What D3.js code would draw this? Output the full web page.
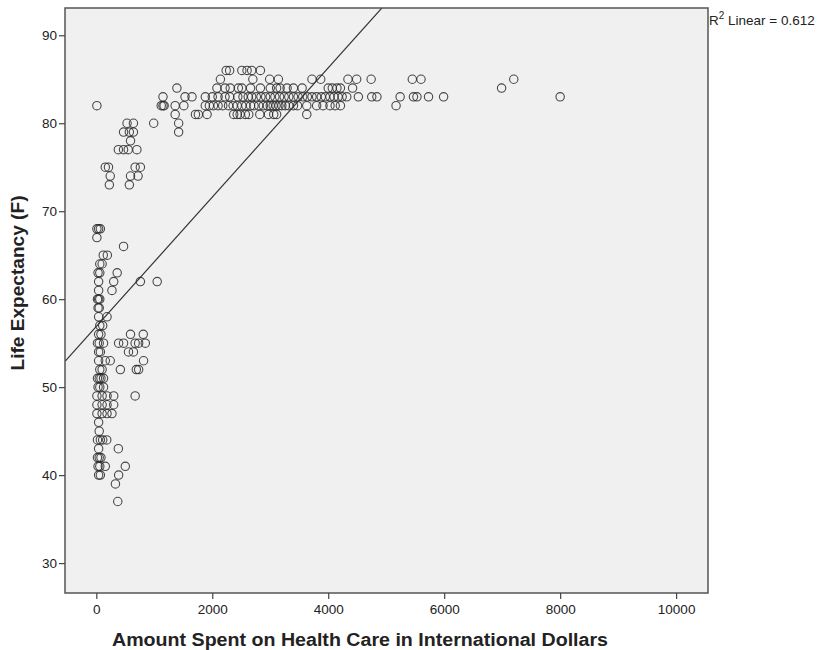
<!DOCTYPE html>
<html>
<head>
<meta charset="utf-8">
<script src="https://cdn.jsdelivr.net/npm/d3@7"></script>
<style>
  html, body { margin: 0; padding: 0; background: #fff; }
  svg { display: block; }
  .tick-label { font-family: "Liberation Sans", Arial, sans-serif; font-size: 13.5px; fill: #222; }
  .axis-title { font-family: "Liberation Sans", Arial, sans-serif; font-size: 18px; font-weight: bold; fill: #222; }
</style>
</head>
<body>
<svg id="chart" width="822" height="650"></svg>
<script>
// Health spending (international dollars) per country, grouped by life expectancy row
const spendingLow = [
  10, 40, 70, 10, 470, 120, 190, 60, 100, 30, 60, 360, 40, 300, 760, 1050, 40, 270,
  20, 40, 60, 30, 50, 40, 185, 60, 110, 40, 80, 590, 810,
  20, 50, 125, 385, 470, 670, 730, 845, 40, 70, 555, 640, 40, 155, 240, 815,
  60, 100, 415, 690, 730, 20, 50, 80, 125, 30, 60, 125, 10, 100, 185, 300, 670,
  10, 100, 185, 300, 10, 100, 185, 270, 40, 50, 20, 70, 110, 180, 40, 380,
  20, 50, 80, 30, 60, 155, 500, 40, 70, 385, 330, 370
];
const lifeLow = [
  68, 68, 68, 67, 66, 65, 65, 64, 64, 63, 63, 63, 62, 62, 62, 62, 61, 61,
  60, 60, 60, 59, 59, 58, 58, 57, 57, 56, 56, 56, 56,
  55, 55, 55, 55, 55, 55, 55, 55, 54, 54, 54, 54, 53, 53, 53, 53,
  52, 52, 52, 52, 52, 51, 51, 51, 51, 50, 50, 50, 49, 49, 49, 49, 49,
  48, 48, 48, 48, 47, 47, 47, 47, 46, 45, 44, 44, 44, 44, 43, 43,
  42, 42, 42, 41, 41, 41, 41, 40, 40, 40, 39, 37
];

const spendingMid = [
  10, 530, 640, 990, 470, 570, 640, 590, 380, 470, 550, 700,
  155, 210, 670, 760, 240, 590, 720, 225, 570
];
const lifeMid = [
  82, 80, 80, 80, 79, 79, 79, 78, 77, 77, 77, 77,
  75, 75, 75, 75, 74, 74, 74, 73, 73
];

const spendingHigh = [
  2240, 2300, 2510, 2600, 2680, 2830,
  2140, 2700, 2990, 3140, 3720, 3870, 4340, 4490, 4740, 5450, 5600, 7200,
  1390, 2080, 2220, 2310, 2450, 2510, 2660, 2830, 3000, 3110, 3170, 3290, 3400, 3550,
  4000, 4070, 4150, 4210, 4420, 6990,
  1150, 1530, 1650, 1880, 2000, 2100, 2220, 2300, 2440, 2530, 2620, 2680, 2760, 2840,
  2920, 3000, 3080, 3160, 3240, 3320, 3400, 3480, 3560, 3640, 3720, 3800, 3880, 3950,
  4030, 4100, 4170, 4240, 4320, 4520, 4750, 4840, 5240, 5470, 5530, 5730, 5990, 8000,
  1120, 1150, 1170, 1360, 1510, 1880, 1950, 2020, 2100, 2180, 2280, 2360, 2430, 2510,
  2580, 2660, 2720, 2800, 2880, 2950, 3000, 3050, 3100, 3150, 3200, 3260, 3320, 3400,
  3470, 3630, 3800, 3910, 4030, 4120, 4210, 5170,
  1360, 1710, 1760, 1910, 2370, 2430, 2480, 2570, 2630, 2820, 2970, 3060, 3110, 3630,
  1420, 1420
];
const lifeHigh = [
  86, 86, 86, 86, 86, 86,
  85, 85, 85, 85, 85, 85, 85, 85, 85, 85, 85, 85,
  84, 84, 84, 84, 84, 84, 84, 84, 84, 84, 84, 84, 84, 84,
  84, 84, 84, 84, 84, 84,
  83, 83, 83, 83, 83, 83, 83, 83, 83, 83, 83, 83, 83, 83,
  83, 83, 83, 83, 83, 83, 83, 83, 83, 83, 83, 83, 83, 83,
  83, 83, 83, 83, 83, 83, 83, 83, 83, 83, 83, 83, 83, 83,
  82, 82, 82, 82, 82, 82, 82, 82, 82, 82, 82, 82, 82, 82,
  82, 82, 82, 82, 82, 82, 82, 82, 82, 82, 82, 82, 82, 82,
  82, 82, 82, 82, 82, 82, 82, 82,
  81, 81, 81, 81, 81, 81, 81, 81, 81, 81, 81, 81, 81, 81,
  80, 79
];

// Linear fit (intercept, slope) and its R²
const fitIntercept = 56.9;
const fitSlope = 0.00735;
const rSquared = 0.612;

const xTicks = [0, 2000, 4000, 6000, 8000, 10000];
const yTicks = [30, 40, 50, 60, 70, 80, 90];
const xDomain = [-540, 10550];
const yDomain = [26.6, 93.1];

const svg = d3.select("#chart");
const plot = { left: 65, top: 8, right: 708, bottom: 593 };

const x = d3.scaleLinear().domain(xDomain).range([plot.left, plot.right]);
const y = d3.scaleLinear().domain(yDomain).range([plot.bottom, plot.top]);

const points = [];
[[spendingLow, lifeLow], [spendingMid, lifeMid], [spendingHigh, lifeHigh]].forEach(([xs, ys]) => {
  xs.forEach((v, i) => points.push({ spend: v, life: ys[i] }));
});

// Plot background
svg.append("rect")
  .attr("x", plot.left).attr("y", plot.top)
  .attr("width", plot.right - plot.left).attr("height", plot.bottom - plot.top)
  .attr("fill", "#f0f0f0");

svg.append("defs").append("clipPath").attr("id", "plot-clip")
  .append("rect")
  .attr("x", plot.left).attr("y", plot.top)
  .attr("width", plot.right - plot.left).attr("height", plot.bottom - plot.top);

// Scatter markers
svg.append("g")
  .selectAll("circle")
  .data(points)
  .join("circle")
  .attr("cx", d => x(d.spend))
  .attr("cy", d => y(d.life))
  .attr("r", 4.2)
  .attr("fill", "none")
  .attr("stroke", "#2a2a2a")
  .attr("stroke-opacity", 0.85)
  .attr("stroke-width", 1.1);

// Fit line
svg.append("line")
  .attr("clip-path", "url(#plot-clip)")
  .attr("x1", x(xDomain[0])).attr("y1", y(fitIntercept + fitSlope * xDomain[0]))
  .attr("x2", x(xDomain[1])).attr("y2", y(fitIntercept + fitSlope * xDomain[1]))
  .attr("stroke", "#333")
  .attr("stroke-width", 1.2);

// Frame
svg.append("rect")
  .attr("x", plot.left).attr("y", plot.top)
  .attr("width", plot.right - plot.left).attr("height", plot.bottom - plot.top)
  .attr("fill", "none")
  .attr("stroke", "#555")
  .attr("stroke-width", 1.5);

// Axes
const xAxis = d3.axisBottom(x).tickValues(xTicks).tickSize(6).tickPadding(5).tickFormat(d3.format("d"));
const yAxis = d3.axisLeft(y).tickValues(yTicks).tickSize(6).tickPadding(2).tickFormat(d3.format("d"));

const gx = svg.append("g").attr("transform", `translate(0,${plot.bottom})`).call(xAxis);
const gy = svg.append("g").attr("transform", `translate(${plot.left},0)`).call(yAxis);
[gx, gy].forEach(g => {
  g.select(".domain").remove();
  g.selectAll(".tick line").attr("stroke", "#444").attr("stroke-width", 1.2);
  g.selectAll(".tick text").attr("class", "tick-label").attr("fill", null);
});

// Axis titles
svg.append("text")
  .attr("class", "axis-title")
  .attr("x", 360)
  .attr("y", 646)
  .attr("text-anchor", "middle")
  .attr("textLength", 496)
  .attr("lengthAdjust", "spacingAndGlyphs")
  .text("Amount Spent on Health Care in International Dollars");

svg.append("text")
  .attr("class", "axis-title")
  .attr("transform", "translate(24,283) rotate(-90)")
  .attr("text-anchor", "middle")
  .attr("textLength", 175)
  .attr("lengthAdjust", "spacingAndGlyphs")
  .text("Life Expectancy (F)");

// Fit annotation
const r2 = svg.append("text")
  .attr("class", "tick-label")
  .attr("x", 709)
  .attr("y", 25)
  .attr("font-size", 14);
r2.append("tspan").text("R");
r2.append("tspan").attr("dy", -6).attr("font-size", 10).text("2");
r2.append("tspan").attr("dy", 6).text(" Linear = " + rSquared.toFixed(3));
</script>
</body>
</html>
